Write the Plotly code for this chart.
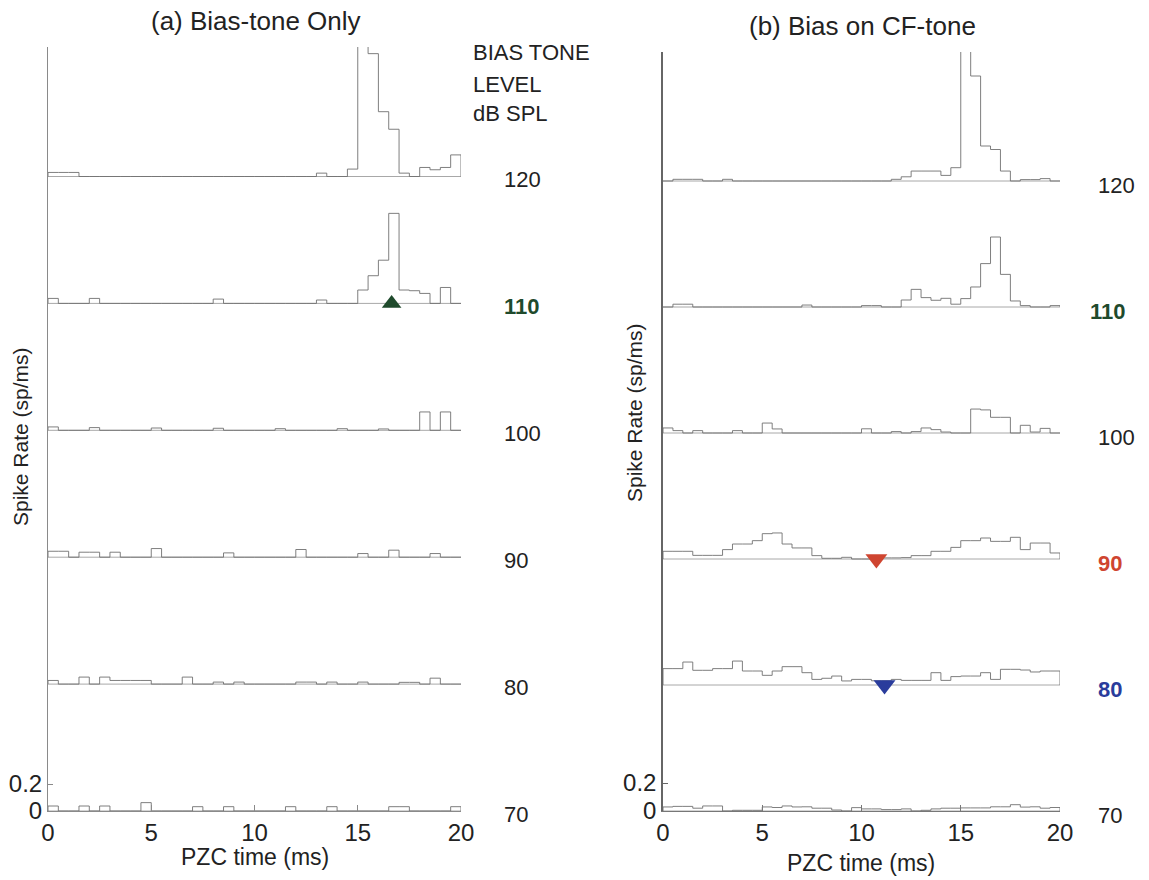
import numpy as np
import plotly.graph_objects as go

# ---- data: PZC histograms, 0.5 ms bins over 0-20 ms (spike rate, sp/ms) ----
BIN_MS = 0.5
N_BINS = 40
LEVELS = [70, 80, 90, 100, 110, 120]          # bias tone level, dB SPL

# (a) bias tone only
bias_only = {
    120: [0.03, 0.03, 0.03, 0, 0, 0, 0, 0, 0, 0,
          0, 0, 0, 0, 0, 0, 0, 0, 0, 0,
          0, 0, 0, 0, 0, 0, 0.025, 0, 0, 0.055,
          0.97, 0.91, 0.48, 0.35, 0.025, 0, 0.067, 0.05, 0.067, 0.16],
    110: [0.037, 0, 0, 0, 0.037, 0, 0, 0, 0, 0,
          0, 0, 0, 0, 0, 0, 0.032, 0, 0, 0,
          0, 0, 0, 0, 0, 0, 0.025, 0, 0, 0,
          0.099, 0.205, 0.32, 0.667, 0.099, 0.094, 0.074, 0, 0.118, 0],
    100: [0.025, 0, 0, 0, 0.02, 0, 0, 0, 0, 0,
          0.017, 0, 0, 0, 0, 0, 0.015, 0, 0, 0,
          0, 0, 0.012, 0, 0, 0, 0, 0, 0.012, 0,
          0, 0, 0.01, 0, 0, 0, 0.136, 0, 0.136, 0],
    90: [0.044, 0.044, 0, 0.037, 0.037, 0, 0.037, 0, 0, 0,
         0.064, 0, 0, 0, 0, 0, 0, 0.032, 0, 0,
         0, 0, 0, 0, 0.057, 0, 0, 0, 0, 0,
         0.027, 0, 0, 0.052, 0, 0, 0, 0.027, 0, 0],
    80: [0.027, 0, 0, 0.052, 0, 0.052, 0.027, 0.027, 0.027, 0.027,
         0, 0, 0, 0.052, 0, 0, 0.015, 0, 0.015, 0,
         0, 0, 0, 0, 0.015, 0.015, 0, 0.015, 0, 0,
         0.015, 0, 0, 0, 0.013, 0.013, 0, 0.044, 0, 0],
    70: [0.037, 0, 0, 0.037, 0, 0.037, 0, 0, 0, 0.062,
         0, 0, 0, 0, 0.032, 0, 0, 0.032, 0, 0,
         0, 0, 0, 0.032, 0, 0, 0, 0.032, 0, 0,
         0, 0, 0, 0.032, 0.032, 0, 0, 0, 0, 0.032],
}

# (b) bias tone on CF tone
bias_on_cf = {
    120: [0, 0.012, 0.012, 0.012, 0, 0, 0.012, 0, 0, 0,
          0, 0, 0, 0, 0, 0, 0, 0, 0, 0,
          0, 0, 0, 0.012, 0.03, 0.071, 0.071, 0.071, 0.04, 0.095,
          1.2, 0.75, 0.25, 0.225, 0.071, 0, 0.01, 0.01, 0.017, 0],
    110: [0, 0.02, 0.02, 0, 0, 0, 0, 0, 0, 0,
          0, 0, 0, 0, 0.014, 0, 0, 0, 0, 0,
          0.01, 0.01, 0, 0, 0.05, 0.126, 0.067, 0.048, 0.062, 0.02,
          0.06, 0.143, 0.31, 0.5, 0.233, 0.043, 0.01, 0, 0, 0.01],
    100: [0.036, 0.017, 0, 0.017, 0, 0, 0, 0.017, 0, 0,
          0.071, 0.029, 0, 0, 0, 0, 0, 0, 0, 0,
          0.03, 0, 0, 0.01, 0, 0.01, 0.036, 0.024, 0.007, 0,
          0, 0.171, 0.165, 0.112, 0.112, 0, 0.055, 0.007, 0.033, 0],
    90: [0.055, 0.055, 0.055, 0.026, 0.026, 0.026, 0.067, 0.107, 0.107, 0.131,
         0.181, 0.186, 0.107, 0.079, 0.079, 0.024, 0.005, 0.005, 0.012, 0,
         0, 0, 0.008, 0.008, 0.01, 0.024, 0.024, 0.055, 0.055, 0.083,
         0.131, 0.131, 0.15, 0.126, 0.126, 0.155, 0.067, 0.114, 0.114, 0.043],
    80: [0.117, 0.117, 0.164, 0.105, 0.105, 0.117, 0.117, 0.171, 0.1, 0.1,
         0.069, 0.1, 0.131, 0.131, 0.088, 0.04, 0.048, 0.064, 0.029, 0.04,
         0.04, 0.03, 0.03, 0.04, 0.033, 0.033, 0.033, 0.088, 0.033, 0.06,
         0.064, 0.064, 0.088, 0.04, 0.112, 0.112, 0.107, 0.093, 0.1, 0.1],
    70: [0.029, 0.033, 0.033, 0.02, 0.036, 0.036, 0, 0.005, 0.005, 0.005,
         0.029, 0.025, 0.036, 0.029, 0.03, 0.02, 0.02, 0.007, 0, 0.024,
         0.015, 0.015, 0.01, 0.01, 0.015, 0, 0.005, 0.015, 0.02, 0.02,
         0.022, 0.022, 0.022, 0.03, 0.03, 0.045, 0.028, 0.03, 0.02, 0.025],
}

# vertical spacing between stacked traces (sp/ms)
STACK_A = 0.94
STACK_B = 0.90

# event markers: (level, time in ms)
marker_a = {"level": 110, "t": 16.64}
markers_b = [{"level": 90, "t": 10.75}, {"level": 80, "t": 11.16}]

GREEN = "#1f4a2c"
RED = "#cf4530"
BLUE = "#2a3c9c"
FONT = "Liberation Sans, Arial, sans-serif"

W, H = 1149, 880
edges = np.arange(N_BINS + 1) * BIN_MS


def px_x(p):
    return p / W


def px_y(p):
    return 1 - p / H


def add_panel(fig, data, stack, xa, ya):
    for k, lvl in enumerate(LEVELS):
        base = k * stack
        vals = data[lvl]
        xs = [edges[0]] + list(edges) + [edges[-1]]
        ys = [base] + [base + v for v in vals] + [base + vals[-1], base]
        # baseline
        fig.add_trace(go.Scatter(x=[edges[0], edges[-1]], y=[base, base], mode="lines",
                                 line=dict(color="#a8a8a8", width=1),
                                 xaxis=xa, yaxis=ya, hoverinfo="skip", showlegend=False))
        # stepped histogram
        fig.add_trace(go.Scatter(x=xs, y=ys, mode="lines", line_shape="hv",
                                 line=dict(color="#707070", width=0.9),
                                 xaxis=xa, yaxis=ya, showlegend=False))


fig = go.Figure()
add_panel(fig, bias_only, STACK_A, "x", "y")
add_panel(fig, bias_on_cf, STACK_B, "x2", "y2")

fig.add_trace(go.Scatter(
    x=[marker_a["t"]], y=[LEVELS.index(marker_a["level"]) * STACK_A],
    mode="markers", marker=dict(symbol="triangle-up", size=17, color=GREEN),
    xaxis="x", yaxis="y", showlegend=False))
for m, c in zip(markers_b, [RED, BLUE]):
    fig.add_trace(go.Scatter(
        x=[m["t"]], y=[LEVELS.index(m["level"]) * STACK_B],
        mode="markers", marker=dict(symbol="triangle-down", size=19, color=c),
        xaxis="x2", yaxis="y2", showlegend=False))

# axes geometry (pixels)
y_zero = 811
top_a, top_b = 47, 52
scale_a, scale_b = 135.0, 140.0

axis_common = dict(showgrid=False, zeroline=False, showline=True, ticks="inside",
                   automargin=False,
                   tickfont=dict(size=24, color="#222", family=FONT))

fig.update_layout(
    template="none",
    width=W, height=H, autosize=False,
    margin=dict(l=0, r=0, t=0, b=0, pad=0),
    paper_bgcolor="white", plot_bgcolor="white",
    font=dict(family=FONT, color="#222"),
    xaxis=dict(domain=[px_x(48), px_x(461)], range=[0, 20], anchor="y",
               tickvals=[0, 5, 10, 15, 20], ticklen=6, linecolor="#8a8a8a",
               tickcolor="#8a8a8a", **axis_common),
    yaxis=dict(domain=[px_y(y_zero), px_y(top_a)],
               range=[0, (y_zero - top_a) / scale_a], anchor="x",
               tickvals=[0, 0.2], ticktext=["0", "0.2"], ticklen=5,
               linecolor="#8a8a8a", tickcolor="#8a8a8a", **axis_common),
    xaxis2=dict(domain=[px_x(663), px_x(1060)], range=[0, 20], anchor="y2",
                tickvals=[0, 5, 10, 15, 20], ticklen=6, linecolor="#777",
                tickcolor="#777", **axis_common),
    yaxis2=dict(domain=[px_y(y_zero), px_y(top_b)],
                range=[0, (y_zero - top_b) / scale_b], anchor="x2",
                tickvals=[0, 0.2], ticktext=["0", "0.2"], ticklen=5,
                linecolor="#666", tickcolor="#666", linewidth=1.5, **axis_common),
)


def paper_text(txt, cx, cy, size, xanchor="center", angle=0):
    return dict(text=txt, x=px_x(cx), y=px_y(cy), xref="paper", yref="paper",
                xanchor=xanchor, yanchor="middle", textangle=angle, showarrow=False,
                font=dict(size=size, color="#222"))


ann = []
# panel titles
ann.append(paper_text("(a) Bias-tone Only", 256, 21, 26))
ann.append(paper_text("(b) Bias on CF-tone", 862, 26, 26))
# axis titles
for cx, cy in [(255, 857), (861, 863)]:
    ann.append(paper_text("PZC time (ms)", cx, cy, 23))
for cx, cy in [(20, 437), (635, 413)]:
    ann.append(paper_text("Spike Rate (sp/ms)", cx, cy, 21, angle=-90))
# level legend heading
for txt, cy in [("BIAS TONE", 53), ("LEVEL", 84), ("dB SPL", 114)]:
    ann.append(paper_text(txt, 471, cy, 22, xanchor="left"))

# level labels, placed to the right of each panel beside the trace baseline
label_style_a = {110: (GREEN, True)}
label_style_b = {110: (GREEN, True), 90: (RED, True), 80: (BLUE, True)}
for k, lvl in enumerate(LEVELS):
    col, bold = label_style_a.get(lvl, ("#222", False))
    ann.append(dict(text=f"<b>{lvl}</b>" if bold else str(lvl), x=22.0 / 20, y=k * STACK_A,
                    xref="x domain", yref="y", xanchor="left", yanchor="middle", yshift=-3,
                    showarrow=False, font=dict(size=22, color=col)))
    col, bold = label_style_b.get(lvl, ("#222", False))
    tx = 21.4 if lvl == 110 else 21.8
    ann.append(dict(text=f"<b>{lvl}</b>" if bold else str(lvl), x=tx / 20, y=k * STACK_B,
                    xref="x2 domain", yref="y2", xanchor="left", yanchor="middle", yshift=-4,
                    showarrow=False, font=dict(size=22, color=col)))

fig.update_layout(annotations=ann)
fig.write_html("out.html")
